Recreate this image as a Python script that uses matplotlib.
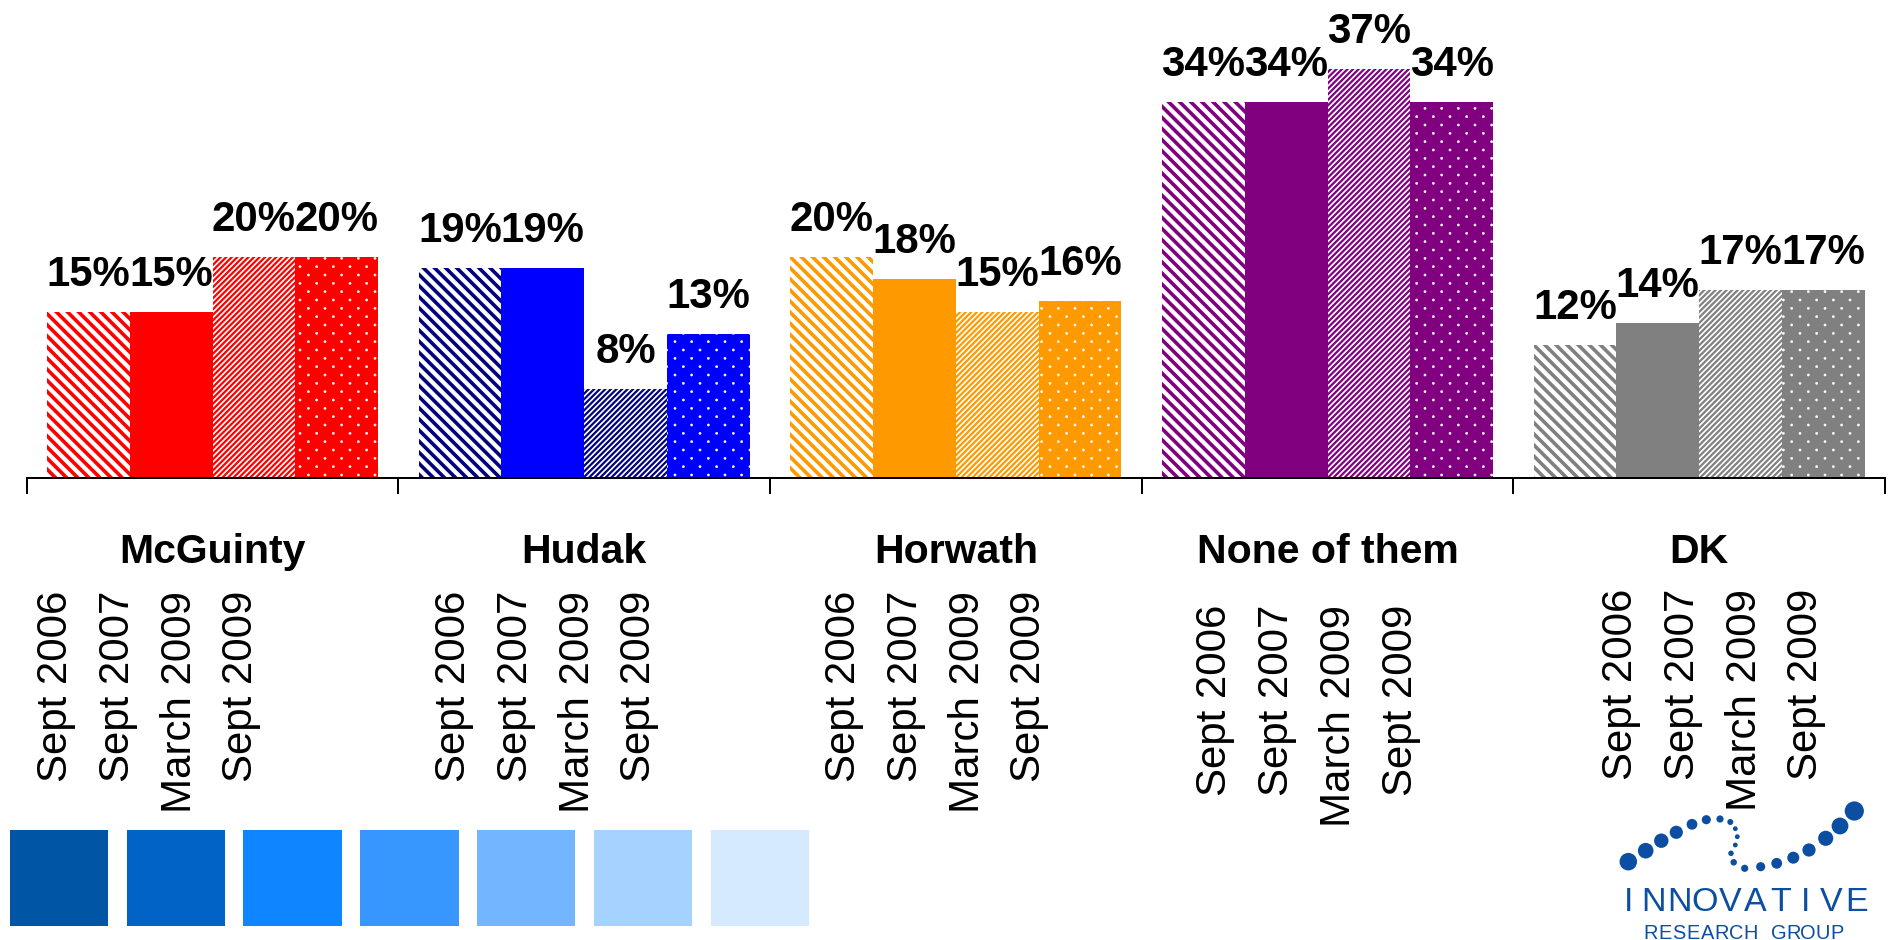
import numpy as np
import matplotlib
matplotlib.use('Agg')
import matplotlib.pyplot as plt
from matplotlib import transforms
from matplotlib.patches import Rectangle
from matplotlib.path import Path
from matplotlib import font_manager as fm

# ---------------- data ----------------
groups = ['McGuinty', 'Hudak', 'Horwath', 'None of them', 'DK']
periods = ['Sept 2006', 'Sept 2007', 'March 2009', 'Sept 2009']
sept_2006 = [15, 19, 20, 34, 12]
sept_2007 = [15, 19, 18, 34, 14]
march_2009 = [20, 8, 15, 37, 17]
sept_2009 = [20, 13, 16, 34, 17]
series = [sept_2006, sept_2007, march_2009, sept_2009]

group_colors = ['#FF0000', '#0000FF', '#FF9900', '#800080', '#808080']
stripe_colors = ['#FF0000', '#000080', '#FF9900', '#800080', '#808080']
swatch_colors = ['#0055A5', '#0063C5', '#0F85FF', '#3797FF', '#73B5FF', '#A6D2FF', '#D5E9FF']
logo_color = '#0B4EA2'

# ---------------- dotted texture (staggered white dots) ----------------
try:
    import matplotlib.hatch as mhatch

    class DiamondDots(mhatch.HatchPatternBase):
        def __init__(self, hatch, density):
            n = hatch.count('.')
            self.rows = 2 * n * density
            circ = Path.unit_circle()
            self.cv = circ.vertices
            self.cc = circ.codes
            if n == 0:
                self.num_vertices = 0
                return
            ncols = self.rows // 2
            even_rows = self.rows // 2 + 1
            odd_rows = self.rows // 2
            self.num_shapes = even_rows * (ncols + 1) + odd_rows * ncols
            self.num_vertices = self.num_shapes * len(self.cv)

        def set_vertices_and_codes(self, vertices, codes):
            dy = 1.0 / self.rows
            ncols = self.rows // 2
            r = 0.011
            vparts, cparts = [], []
            for row in range(self.rows + 1):
                if row % 2 == 0:
                    cols = np.linspace(0, 1, ncols + 1)
                else:
                    cols = np.linspace(0.5 / ncols, 1 - 0.5 / ncols, ncols)
                for c in cols:
                    vparts.append(self.cv * r + [c, row * dy])
                    cparts.append(self.cc)
            vertices[:] = np.concatenate(vparts)
            codes[:] = np.concatenate(cparts)

    mhatch._hatch_types = [t for t in mhatch._hatch_types
                           if t is not mhatch.SmallFilledCircles] + [DiamondDots]
    DOT_HATCH = '.'
except Exception:
    DOT_HATCH = '..'

# ---------------- layout ----------------
W, H, DPI = 1892, 940, 100
PX = 72.0 / DPI  # points per pixel
plt.rcParams['font.family'] = ['Liberation Sans', 'DejaVu Sans']

fig = plt.figure(figsize=(W / DPI, H / DPI), dpi=DPI)
fig.patch.set_facecolor('white')

ax_left, ax_right = 26.7, 1885.0
base_y = 477.7
px_per_pct = 11.04
ax = fig.add_axes([ax_left / W, (H - base_y) / H, (ax_right - ax_left) / W, base_y / H])
ax.set_xlim(-0.5, len(groups) - 0.5)
ax.set_ylim(0, base_y / px_per_pct)
group_px = (ax_right - ax_left) / len(groups)

bar_w = 0.2227
styles = [
    dict(hatch='\\\\\\', mode='stripe', hlw=2.6),
    dict(hatch=None, mode='solid', hlw=1.0),
    dict(hatch='//////', mode='stripe', hlw=1.6),
    dict(hatch=DOT_HATCH, mode='dots', hlw=0.35),
]

x = np.arange(len(groups))
for j, vals in enumerate(series):
    st = styles[j]
    if st['mode'] == 'stripe':
        fc, ec = 'white', stripe_colors
    elif st['mode'] == 'dots':
        fc, ec = group_colors, 'white'
    else:
        fc, ec = group_colors, group_colors
    xpos = x + (j - 1.5) * bar_w
    with plt.rc_context({'hatch.linewidth': st['hlw']}):
        bars = ax.bar(xpos, vals, width=bar_w, color=fc, edgecolor=ec,
                      linewidth=0, hatch=st['hatch'])
    for b in bars:
        if hasattr(b, 'set_hatch_linewidth'):
            b.set_hatch_linewidth(st['hlw'])
    for xi, v in zip(xpos, vals):
        ax.annotate(f'{v}%', xy=(xi, v), xytext=(0, 26 * PX), textcoords='offset points',
                    ha='center', va='baseline', fontsize=42 * PX, fontweight='bold',
                    color='black', annotation_clip=False)

for side in ['left', 'right', 'top']:
    ax.spines[side].set_visible(False)
ax.spines['bottom'].set_linewidth(2 * PX)
ax.spines['bottom'].set_color('black')
ax.set_yticks([])
ax.set_xticks(np.arange(len(groups) + 1) - 0.5)
ax.set_xticklabels([])
ax.tick_params(axis='x', direction='out', length=15.5 * PX, width=2 * PX, color='black')
ax.patch.set_alpha(0)

# overlay in pixel coordinates
ov = fig.add_axes([0, 0, 1, 1])
ov.set_xlim(0, W)
ov.set_ylim(H, 0)
ov.axis('off')
trans = transforms.blended_transform_factory(ax.transData, ov.transData)

# group names
for i, g in enumerate(groups):
    ov.text(i, 562.7, g, transform=trans, ha='center', va='baseline',
            fontsize=41 * PX, fontweight='bold', color='black')

# period labels (rotated)
date_offsets = [29.3, 55.7, 74.0, 73.5, 107.7]
date_tops = [591, 591, 591, 605, 589]
date_step = 61.8
for i in range(len(groups)):
    for k, p in enumerate(periods):
        xd = i - 0.5 + (date_offsets[i] + k * date_step) / group_px
        ov.text(xd, date_tops[i], p, transform=trans, rotation=90, ha='center', va='top',
                fontsize=42 * PX, color='black')

# colour swatches
sw_x0, sw_step, sw_w, sw_y0, sw_y1 = 9.7, 116.8, 98.5, 830, 925.5
for k, c in enumerate(swatch_colors):
    ov.add_patch(Rectangle((sw_x0 + k * sw_step, sw_y0), sw_w, sw_y1 - sw_y0,
                           facecolor=c, edgecolor='none'))

# logo
logo_dots = [(1628.3, 861.7, 7.3), (1645.7, 850.7, 6.5), (1661.3, 840.7, 6.0),
             (1676.3, 832.3, 5.5), (1692.0, 824.3, 4.5), (1706.3, 819.7, 3.8),
             (1720.0, 819.0, 3.0), (1730.3, 822.0, 2.5), (1735.3, 828.7, 2.0),
             (1737.3, 836.7, 2.0), (1735.3, 845.0, 2.0), (1731.0, 853.3, 2.3),
             (1733.7, 862.3, 2.7), (1744.7, 868.3, 3.0), (1760.7, 866.7, 3.8),
             (1776.7, 863.3, 4.5), (1793.3, 857.7, 5.0), (1809.0, 850.0, 5.5),
             (1825.7, 838.3, 6.3), (1840.0, 826.0, 7.0), (1854.3, 811.0, 8.0)]
lx = [d[0] for d in logo_dots]
ly = [d[1] for d in logo_dots]
ls = [(2 * 1.2 * d[2] * PX) ** 2 for d in logo_dots]
ov.scatter(lx, ly, s=ls, color=logo_color, linewidths=0)

names = {f.name for f in fm.fontManager.ttflist}
narrow = 'Liberation Sans Narrow' in names
lfam = ['Liberation Sans Narrow'] if narrow else ['Liberation Sans']
big = 'INNOVATIVE'
b_x0, b_x1 = 1628.5, 1856.5
for k, ch in enumerate(big):
    ov.text(b_x0 + k * (b_x1 - b_x0) / (len(big) - 1), 911, ch, ha='center', va='baseline',
            fontsize=(39 if narrow else 34) * PX, color=logo_color, family=lfam)
small = 'RESEARCH GROUP'
s_x0, s_x1 = 1650.5, 1836.5
for k, ch in enumerate(small):
    ov.text(s_x0 + k * (s_x1 - s_x0) / (len(small) - 1), 939, ch, ha='center', va='baseline',
            fontsize=(23 if narrow else 20) * PX, color=logo_color, family=lfam)

fig.savefig('out.png', dpi=DPI, facecolor='white')
